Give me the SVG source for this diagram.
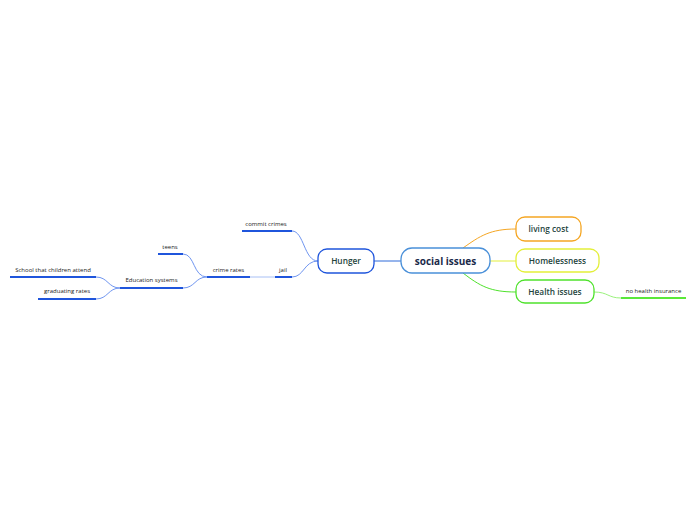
<svg xmlns="http://www.w3.org/2000/svg" width="696" height="520" viewBox="0 0 696 520">
<style>
text{font-family:"Open Sans","DejaVu Sans",sans-serif;fill:#1e3a34}
.c{font-size:10px;font-weight:bold;fill:#1b2a4a}
.m{font-size:8.3px;font-weight:600;fill:#24443c}
.s{font-size:6px;fill:#222}
.box{fill:#fff;stroke-width:1.3}
.ul{stroke-width:2;fill:none}
.cn{fill:none;stroke-width:1}
</style>
<rect width="696" height="520" fill="#fff"/>
<g id="connectors">
<path class="cn" d="M401 261H374" stroke="#2f6bd9" stroke-width="1.3"/>
<path class="cn" d="M463 248C480 236 490 229 516 229" stroke="#f5a623" stroke-width="1.3"/>
<path class="cn" d="M490 261H516" stroke="#e3ef3a" stroke-width="1.3"/>
<path class="cn" d="M463 273C480 286 490 292 516 292" stroke="#4fe22c" stroke-width="1.3"/>
<path class="cn" d="M318 261C304 261 304 231 292 231" stroke="#6f95f0"/>
<path class="cn" d="M318 261C304 261 304 277 292 277" stroke="#6f95f0"/>
<path class="cn" d="M275 277H250" stroke="#a8c0f5"/>
<path class="cn" d="M207 277C193 277 195 254 183 254" stroke="#6f95f0"/>
<path class="cn" d="M207 277C195 277 195 288 183 288" stroke="#6f95f0"/>
<path class="cn" d="M120 288C108 288 108 277 96 277" stroke="#6f95f0"/>
<path class="cn" d="M120 288C108 288 108 299 96 299" stroke="#6f95f0"/>
<path class="cn" d="M594 292C608 292 608 298 621 298" stroke="#9af27c"/>
</g>
<g id="social-issues">
<rect class="box" x="401" y="248" width="89" height="25" rx="11" stroke="#4a90d9"/>
<text class="c" x="445.5" y="264.5" text-anchor="middle">social issues</text>
</g>
<g id="living-cost">
<rect class="box" x="516" y="217" width="65" height="24" rx="9" stroke="#f5a623"/>
<text class="m" x="548.5" y="232" text-anchor="middle">living cost</text>
</g>
<g id="homelessness">
<rect class="box" x="516" y="249" width="83" height="23" rx="9" stroke="#e3ef3a"/>
<text class="m" x="557.5" y="264" text-anchor="middle">Homelessness</text>
</g>
<g id="health-issues">
<rect class="box" x="516" y="280" width="78" height="23" rx="9" stroke="#4fe22c"/>
<text class="m" x="555" y="295" text-anchor="middle">Health issues</text>
</g>
<g id="hunger">
<rect class="box" x="318" y="249" width="56" height="24" rx="9" stroke="#1f55dc"/>
<text class="m" x="346" y="264" text-anchor="middle">Hunger</text>
</g>
<g id="commit-crimes">
<path class="ul" d="M242 231H292" stroke="#1f55dc"/>
<text class="s" x="266" y="226" text-anchor="middle">commit crimes</text>
</g>
<g id="jail">
<path class="ul" d="M275 277H292" stroke="#1f55dc"/>
<text class="s" x="283" y="272" text-anchor="middle">jail</text>
</g>
<g id="crime-rates">
<path class="ul" d="M207 277H250" stroke="#1f55dc"/>
<text class="s" x="228.5" y="272" text-anchor="middle">crime rates</text>
</g>
<g id="teens">
<path class="ul" d="M158 254H183" stroke="#1f55dc"/>
<text class="s" x="170" y="249" text-anchor="middle">teens</text>
</g>
<g id="education-systems">
<path class="ul" d="M120 288H183" stroke="#1f55dc"/>
<text class="s" x="151.5" y="282" text-anchor="middle">Education systems</text>
</g>
<g id="school">
<path class="ul" d="M10 277H96" stroke="#1f55dc"/>
<text class="s" x="53" y="272" text-anchor="middle">School that children attend</text>
</g>
<g id="graduating-rates">
<path class="ul" d="M38 299H96" stroke="#1f55dc"/>
<text class="s" x="67" y="293" text-anchor="middle">graduating rates</text>
</g>
<g id="no-health-insurance">
<path class="ul" d="M621 298H686" stroke="#5ae83a"/>
<text class="s" x="653.5" y="293" text-anchor="middle">no health insurance</text>
</g>
</svg>
